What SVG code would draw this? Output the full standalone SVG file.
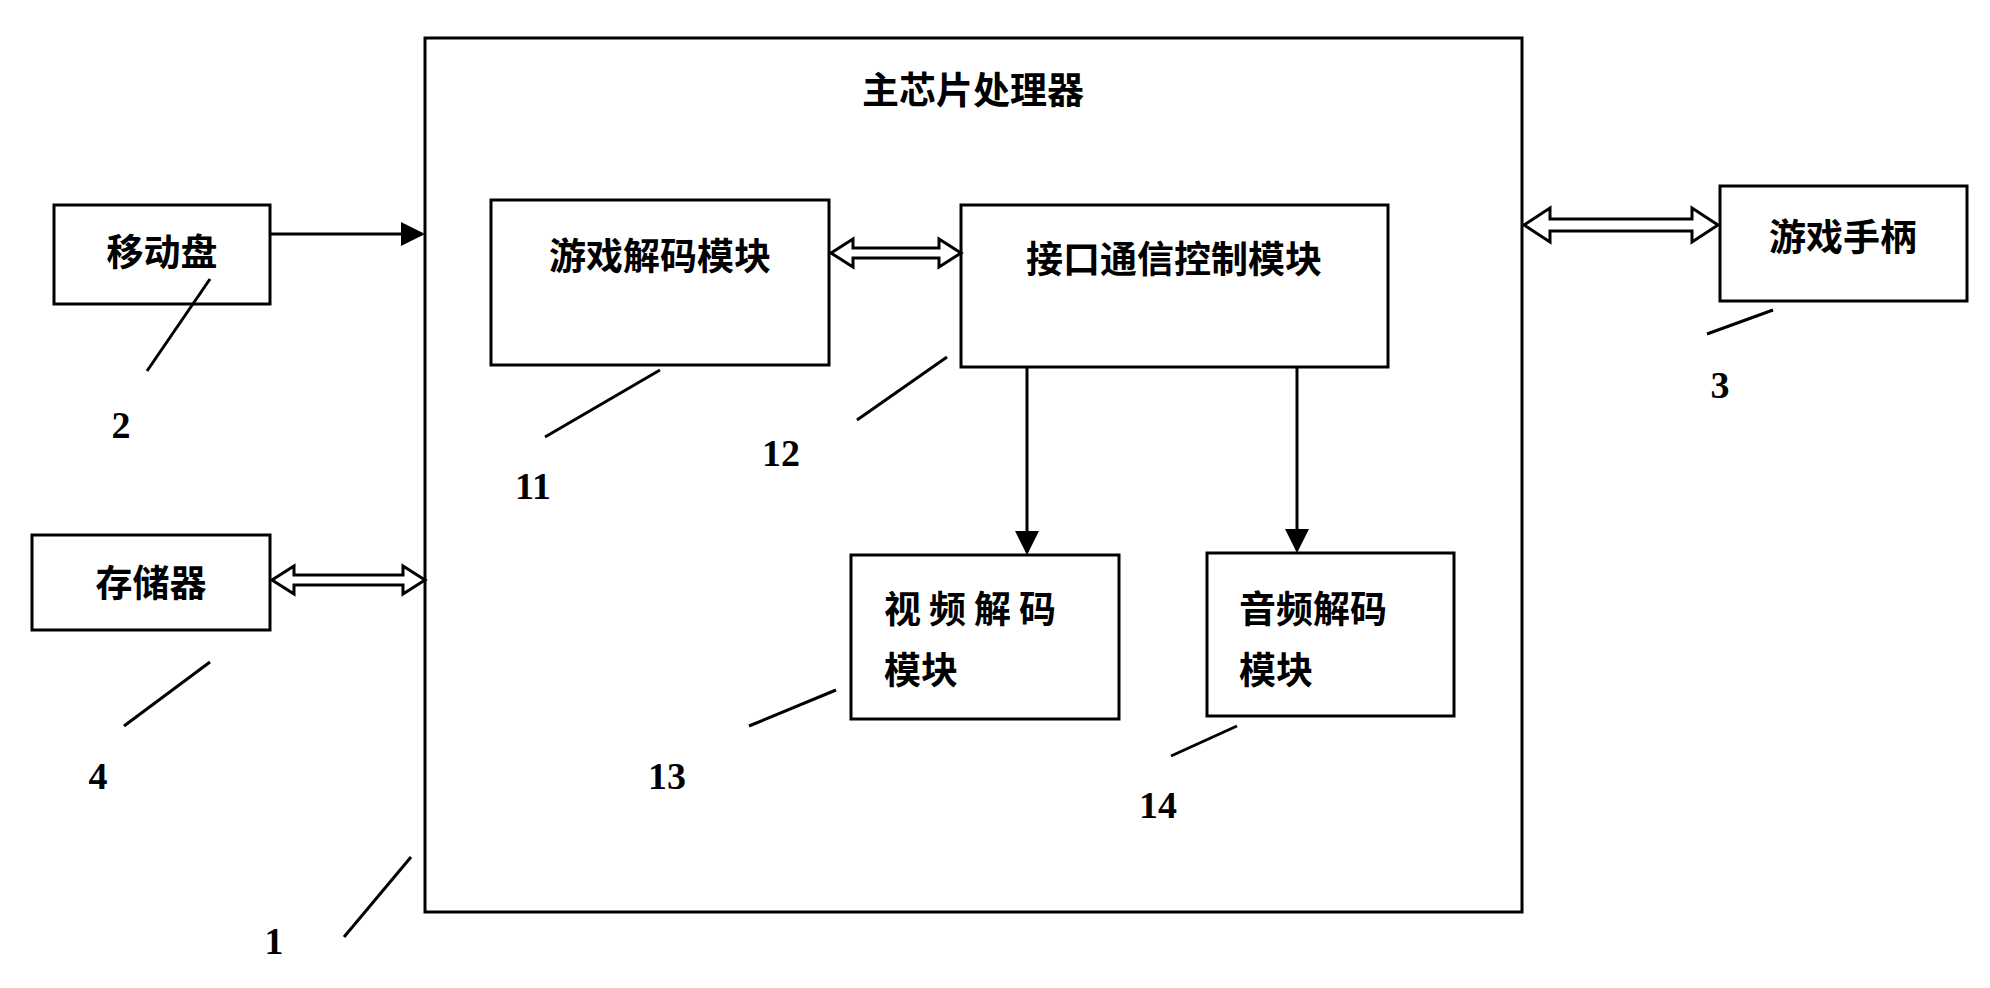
<svg xmlns="http://www.w3.org/2000/svg" width="1990" height="988" viewBox="0 0 1990 988">
<style>
.b{fill:#fff;stroke:#000;stroke-width:3}
.t{font-family:"Noto Sans CJK SC",sans-serif;font-weight:bold;font-size:37px;fill:#000}
.n{font-family:"Liberation Serif",serif;font-weight:bold;font-size:38px;fill:#000}
.l{stroke:#000;stroke-width:3;fill:none}
.d{fill:#fff;stroke:#000;stroke-width:3;stroke-linejoin:miter}
</style>
<defs><marker id="a" markerWidth="8" markerHeight="8" refX="7" refY="4" orient="auto" markerUnits="strokeWidth"><path d="M0,0L8,4L0,8z" fill="#000"/></marker></defs>
<rect width="1990" height="988" fill="#fff"/>
<g id="main"><rect class="b" x="425" y="38" width="1097" height="874"/><text class="t" x="973" y="104" text-anchor="middle">主芯片处理器</text></g>
<g id="n2"><rect class="b" x="54" y="205" width="216" height="99"/><text class="t" x="162" y="266" text-anchor="middle">移动盘</text></g>
<g id="n4"><rect class="b" x="32" y="535" width="238" height="95"/><text class="t" x="151" y="597" text-anchor="middle">存储器</text></g>
<g id="n3"><rect class="b" x="1720" y="186" width="247" height="115"/><text class="t" x="1843" y="251" text-anchor="middle">游戏手柄</text></g>
<g id="n11"><rect class="b" x="491" y="200" width="338" height="165"/><text class="t" x="660" y="270" text-anchor="middle">游戏解码模块</text></g>
<g id="n12"><rect class="b" x="961" y="205" width="427" height="162"/><text class="t" x="1174" y="273" text-anchor="middle">接口通信控制模块</text></g>
<g id="n13"><rect class="b" x="851" y="555" width="268" height="164"/><text class="t" x="884" y="623" letter-spacing="8">视频解码</text><text class="t" x="884" y="684">模块</text></g>
<g id="n14"><rect class="b" x="1207" y="553" width="247" height="163"/><text class="t" x="1239" y="623">音频解码</text><text class="t" x="1239" y="684">模块</text></g>
<g id="connectors">
<line class="l" x1="270" y1="234" x2="422" y2="234" marker-end="url(#a)"/>
<path class="d" d="M272,580 l22,-14 v9 h109 v-9 l22,14 l-22,14 v-9 h-109 v9z"/>
<path class="d" d="M831,253 l22,-14 v9 h86 v-9 l22,14 l-22,14 v-9 h-86 v9z"/>
<path class="d" d="M1524,225 l26,-17 v11 h142 v-11 l26,17 l-26,17 v-11 h-142 v11z"/>
<line class="l" x1="1027" y1="367" x2="1027" y2="552" marker-end="url(#a)"/>
<line class="l" x1="1297" y1="367" x2="1297" y2="550" marker-end="url(#a)"/>
<line class="l" x1="210" y1="279" x2="147" y2="371"/>
<line class="l" x1="210" y1="662" x2="124" y2="726"/>
<line class="l" x1="1773" y1="310" x2="1707" y2="334"/>
<line class="l" x1="660" y1="370" x2="545" y2="437"/>
<line class="l" x1="947" y1="357" x2="857" y2="420"/>
<line class="l" x1="836" y1="690" x2="749" y2="726"/>
<line class="l" x1="1237" y1="726" x2="1171" y2="756"/>
<line class="l" x1="411" y1="857" x2="344" y2="937"/>
</g>
<g id="labels">
<text class="n" x="121" y="438" text-anchor="middle">2</text>
<text class="n" x="98" y="789" text-anchor="middle">4</text>
<text class="n" x="1720" y="398" text-anchor="middle">3</text>
<text class="n" x="533" y="499" text-anchor="middle">11</text>
<text class="n" x="781" y="466" text-anchor="middle">12</text>
<text class="n" x="667" y="789" text-anchor="middle">13</text>
<text class="n" x="1158" y="818" text-anchor="middle">14</text>
<text class="n" x="274" y="954" text-anchor="middle">1</text>
</g>
</svg>
